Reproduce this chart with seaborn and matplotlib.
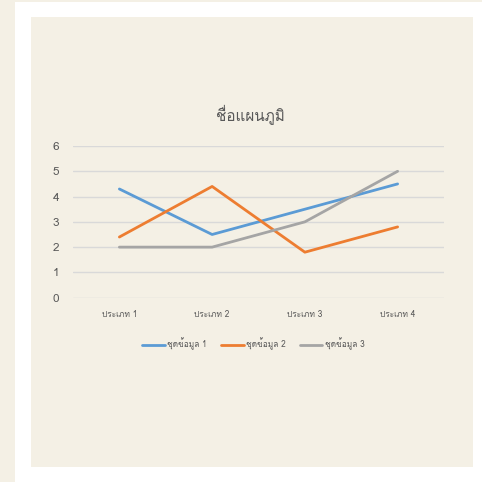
import matplotlib
matplotlib.use("Agg")
import matplotlib.pyplot as plt
from matplotlib import font_manager
from matplotlib.ft2font import FT2Font
from matplotlib.patches import Rectangle
import pandas as pd
import seaborn as sns

categories = ["ประเภท 1", "ประเภท 2", "ประเภท 3", "ประเภท 4"]
series_names = ["ชุดข้อมูล 1", "ชุดข้อมูล 2", "ชุดข้อมูล 3"]
series_1 = [4.3, 2.5, 3.5, 4.5]
series_2 = [2.4, 4.4, 1.8, 2.8]
series_3 = [2.0, 2.0, 3.0, 5.0]
y_ticks = [0, 1, 2, 3, 4, 5, 6]
title = "ชื่อแผนภูมิ"

colors = ["#5B9BD5", "#ED7D31", "#A5A5A5"]
beige = "#F4F0E5"
text_gray = "#595959"


def thai_families():
    found = []
    for f in font_manager.fontManager.ttflist:
        try:
            cmap = FT2Font(f.fname).get_charmap()
        except Exception:
            continue
        if 0x0E0A in cmap and 0x0E1C in cmap and f.name not in found:
            found.append(f.name)
    return found


sns.set_style("white")
fams = thai_families()
plt.rcParams["font.family"] = fams[:1] + ["DejaVu Sans"]

rows = []
for name, vals in zip(series_names, [series_1, series_2, series_3]):
    for cat, v in zip(categories, vals):
        rows.append({"category": cat, "series": name, "value": v})
df = pd.DataFrame(rows)

W = H = 482
fig = plt.figure(figsize=(W / 100, H / 100), dpi=100, facecolor="white")

def px_rect(x0, y0, x1, y1, color):
    fig.patches.append(Rectangle((x0 / W, 1 - y1 / H), (x1 - x0) / W, (y1 - y0) / H,
                                 transform=fig.transFigure, facecolor=color,
                                 edgecolor="none", zorder=-5))

# outer strips and chart area
px_rect(0, 0, 15, H, beige)
px_rect(0, 0, W, 2, beige)
px_rect(31, 17, 473, 467, beige)

ax = fig.add_axes([73 / W, 1 - 297.7 / H, 371 / W, 151.7 / H])
ax.set_zorder(2)
ax.set_facecolor("none")
sns.lineplot(data=df, x="category", y="value", hue="series", palette=colors,
             linewidth=2.0, sort=False, ax=ax, legend=True)

ax.set_xlim(-0.5, 3.5)
ax.set_ylim(0, 6)
ax.set_yticks(y_ticks)
ax.set_yticklabels([str(t) for t in y_ticks], fontsize=8.5, color=text_gray)
ax.set_xticks(range(len(categories)))
ax.set_xticklabels(categories, fontsize=6, color=text_gray)
ax.tick_params(axis="both", length=0)
ax.tick_params(axis="y", pad=10)
ax.tick_params(axis="x", pad=9)
ax.set_xlabel("")
ax.set_ylabel("")
for s in ax.spines.values():
    s.set_visible(False)
ax.grid(axis="y", color="#D9D9D9", linewidth=1.0)
ax.set_axisbelow(True)

fig.text(250 / W, 1 - 115 / H, title, ha="center", va="center", fontsize=11, color=text_gray)

handles, labels = ax.get_legend_handles_labels()
ax.legend(handles, labels, loc="center", bbox_to_anchor=(253 / W, 1 - 344 / H),
          bbox_transform=fig.transFigure, ncol=3, frameon=False, fontsize=6,
          handlelength=2.75, handletextpad=0.25, columnspacing=1.7,
          labelcolor=text_gray)

fig.savefig("out.png", dpi=100, facecolor="white")
